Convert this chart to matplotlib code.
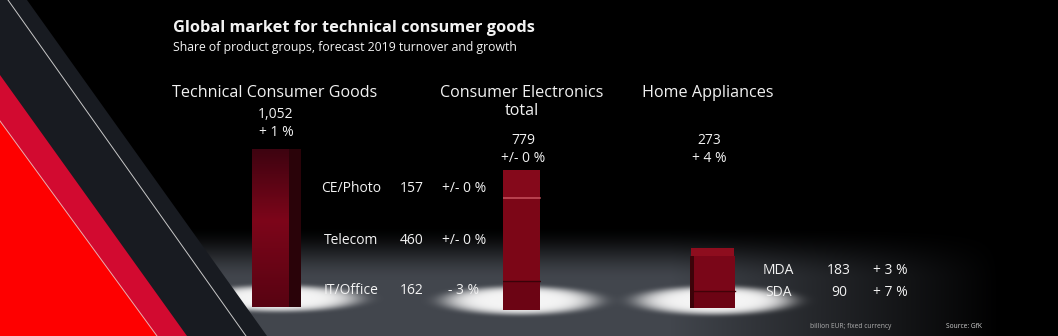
import numpy as np
import matplotlib.pyplot as plt
from matplotlib.patches import Polygon

plt.rcParams['font.family'] = ['Open Sans', 'DejaVu Sans']

# ---- data ----
title = "Global market for technical consumer goods"
subtitle = "Share of product groups, forecast 2019 turnover and growth"
groups = ["Technical Consumer Goods", "Consumer Electronics\ntotal", "Home Appliances"]
group_totals = [1052, 779, 273]
group_growth = ["+ 1 %", "+/- 0 %", "+ 4 %"]

ce_segments = ["CE/Photo", "Telecom", "IT/Office"]
ce_values = [157, 460, 162]
ce_growth = ["+/- 0 %", "+/- 0 %", "- 3 %"]

ha_segments = ["MDA", "SDA"]
ha_values = [183, 90]
ha_growth = ["+ 3 %", "+ 7 %"]

note = "billion EUR; fixed currency"
source = "Source: GfK"

W, H = 1058, 336
fig = plt.figure(figsize=(W / 100, H / 100), dpi=100, facecolor='black')
ax = fig.add_axes([0, 0, 1, 1])
ax.set_xlim(0, W)
ax.set_ylim(H, 0)
ax.axis('off')

# ---- floor + spotlights (background picture) ----
yy, xx = np.mgrid[0:H, 0:W].astype(float)
ramp = np.clip((yy - 225) / 55, 0, 1)
ramp = ramp * ramp * (3 - 2 * ramp)
hfade = np.clip((1000 - xx) / 330, 0, 1)
floor = ramp * hfade
grey = np.array([66, 70, 77]) / 255
img = floor[..., None] * grey
for cx, cy, a, b in [(278, 298, 80, 13), (520, 300, 76, 14), (714, 300, 77, 14)]:
    r2 = ((xx - cx) / a) ** 2 + ((yy - cy) / b) ** 2
    s = np.exp(-r2 ** 3)
    img = img * (1 - s[..., None]) + 0.96 * s[..., None]
ax.imshow(np.clip(img, 0, 1), extent=(0, W, H, 0), aspect='auto', zorder=0)

# ---- left decoration ----
ax.add_patch(Polygon([(0, 0), (27, 0), (267, H), (0, H)], closed=True,
                     facecolor='#181b21', edgecolor='none', zorder=1))
ax.add_patch(Polygon([(0, 75), (187, H), (0, H)], closed=True,
                     facecolor='#d20a30', edgecolor='none', zorder=2))
ax.add_patch(Polygon([(0, 121), (157, H), (0, H)], closed=True,
                     facecolor='#fe0000', edgecolor='none', zorder=3))
ax.plot([8, 246], [0, H], color='#c8c8c8', lw=0.7, zorder=4)
ax.plot([0, 157], [121, H], color='#e8b0b0', lw=0.7, zorder=4)


def bar_axes(x0, x1, bottom_px, scale):
    b = fig.add_axes([x0 / W, (H - bottom_px) / H, (x1 - x0) / W, bottom_px / H])
    b.set_xlim(0, x1 - x0)
    b.set_ylim(0, bottom_px / scale)
    b.axis('off')
    b.patch.set_alpha(0)
    return b


def gradient(b, patch, x0, x1, y0, y1, top, mid, bot):
    t = np.linspace(0, 1, 64)[:, None]
    top, mid, bot = [np.array(c) / 255 for c in (top, mid, bot)]
    col = np.where(t < 0.45, top + (mid - top) * (t / 0.45),
                   mid + (bot - mid) * ((t - 0.45) / 0.55))
    arr = np.repeat(col[:, None, :], 8, axis=1)
    im = b.imshow(arr, extent=(x0, x1, y0, y1), aspect='auto', origin='upper', zorder=3)
    im.set_clip_path(patch)


# ---- Technical Consumer Goods bar ----
b1 = bar_axes(252, 302, 307, 0.150)
side = b1.bar(37, group_totals[0], width=12, align='edge', color='#2a0309', zorder=2)
front = b1.bar(0, group_totals[0], width=37, align='edge', color='#6e0414', zorder=2)
gradient(b1, front[0], 0, 37, 0, group_totals[0], (62, 3, 16), (125, 6, 26), (88, 3, 18))
b1.set_xlim(0, 50)
b1.set_ylim(0, 307 / 0.150)

# ---- Consumer Electronics stacked bar ----
b2 = bar_axes(503, 541, 310, 0.180)
ce_colors = ['#85091b', '#7c0617', '#6c0414']
bottom = 0
for v, c in zip(ce_values[::-1], ce_colors[::-1]):
    b2.bar(0, v, bottom=bottom, width=37, align='edge', color=c, zorder=2)
    bottom += v
b2.plot([0, 37], [ce_values[2], ce_values[2]], color='#3a0209', lw=1, zorder=4)
b2.plot([0, 37], [ce_values[2] + ce_values[1]] * 2, color='#c8525e', lw=1.1, zorder=4)
b2.set_xlim(0, 38)
b2.set_ylim(0, 310 / 0.180)

# ---- Home Appliances stacked bar ----
b3 = bar_axes(690, 737, 308, 0.190)
b3.bar(0, group_totals[2], width=5, align='edge', color='#3c0309', zorder=2)
ha_colors = ['#7a0618', '#6c0414']
bottom = 0
for v, c in zip(ha_values[::-1], ha_colors[::-1]):
    b3.bar(4, v, bottom=bottom, width=41, align='edge', color=c, zorder=2)
    bottom += v
b3.plot([4, 45], [ha_values[1], ha_values[1]], color='#420208', lw=1, zorder=4)
b3.bar(1, 8 / 0.190, bottom=group_totals[2], width=43, align='edge', color='#8e0d1e', zorder=2)
b3.set_xlim(0, 47)
b3.set_ylim(0, 308 / 0.190)

# ---- texts ----
white = '#f2f2f2'
ax.text(173, 28, title, color=white, fontsize=11.8, fontweight='bold', ha='left', va='center', zorder=6)
ax.text(173, 48, subtitle, color=white, fontsize=8.8, ha='left', va='center', zorder=6)

head_x = [275, 522, 708]
head_y = [93, 93, 93]
val_y = [114, 140, 140]
for i in range(3):
    lines = groups[i].split("\n")
    for k, ln in enumerate(lines):
        ax.text(head_x[i], head_y[i] + 18 * k, ln, color=white, fontsize=11.6,
                ha='center', va='center', zorder=6)
    ax.text(head_x[i] + 1, val_y[i], f"{group_totals[i]:,}", color=white, fontsize=10,
            ha='center', va='center', zorder=6)
    ax.text(head_x[i] + 1, val_y[i] + 18.5, group_growth[i], color=white, fontsize=10,
            ha='center', va='center', zorder=6)

for k, (lab, v, g) in enumerate(zip(ce_segments, ce_values, ce_growth)):
    y = 189 + 51 * k
    ax.text(351, y, lab, color=white, fontsize=10, ha='center', va='center', zorder=6)
    ax.text(412, y, str(v), color=white, fontsize=10, ha='center', va='center', zorder=6)
    ax.text(464, y, g, color=white, fontsize=10, ha='center', va='center', zorder=6)

for k, (lab, v, g) in enumerate(zip(ha_segments, ha_values, ha_growth)):
    y = 270 + 23 * k
    ax.text(778, y, lab, color=white, fontsize=10, ha='center', va='center', zorder=6)
    ax.text(839, y, str(v), color=white, fontsize=10, ha='center', va='center', zorder=6)
    ax.text(890, y, g, color=white, fontsize=10, ha='center', va='center', zorder=6)

ax.text(810, 326, note, color='#b0b0b0', fontsize=4.8, ha='left', va='center', zorder=6)
ax.text(946, 326, source, color='#d0d0d0', fontsize=4.8, ha='left', va='center', zorder=6)

fig.savefig('out.png', dpi=100, facecolor='black')
